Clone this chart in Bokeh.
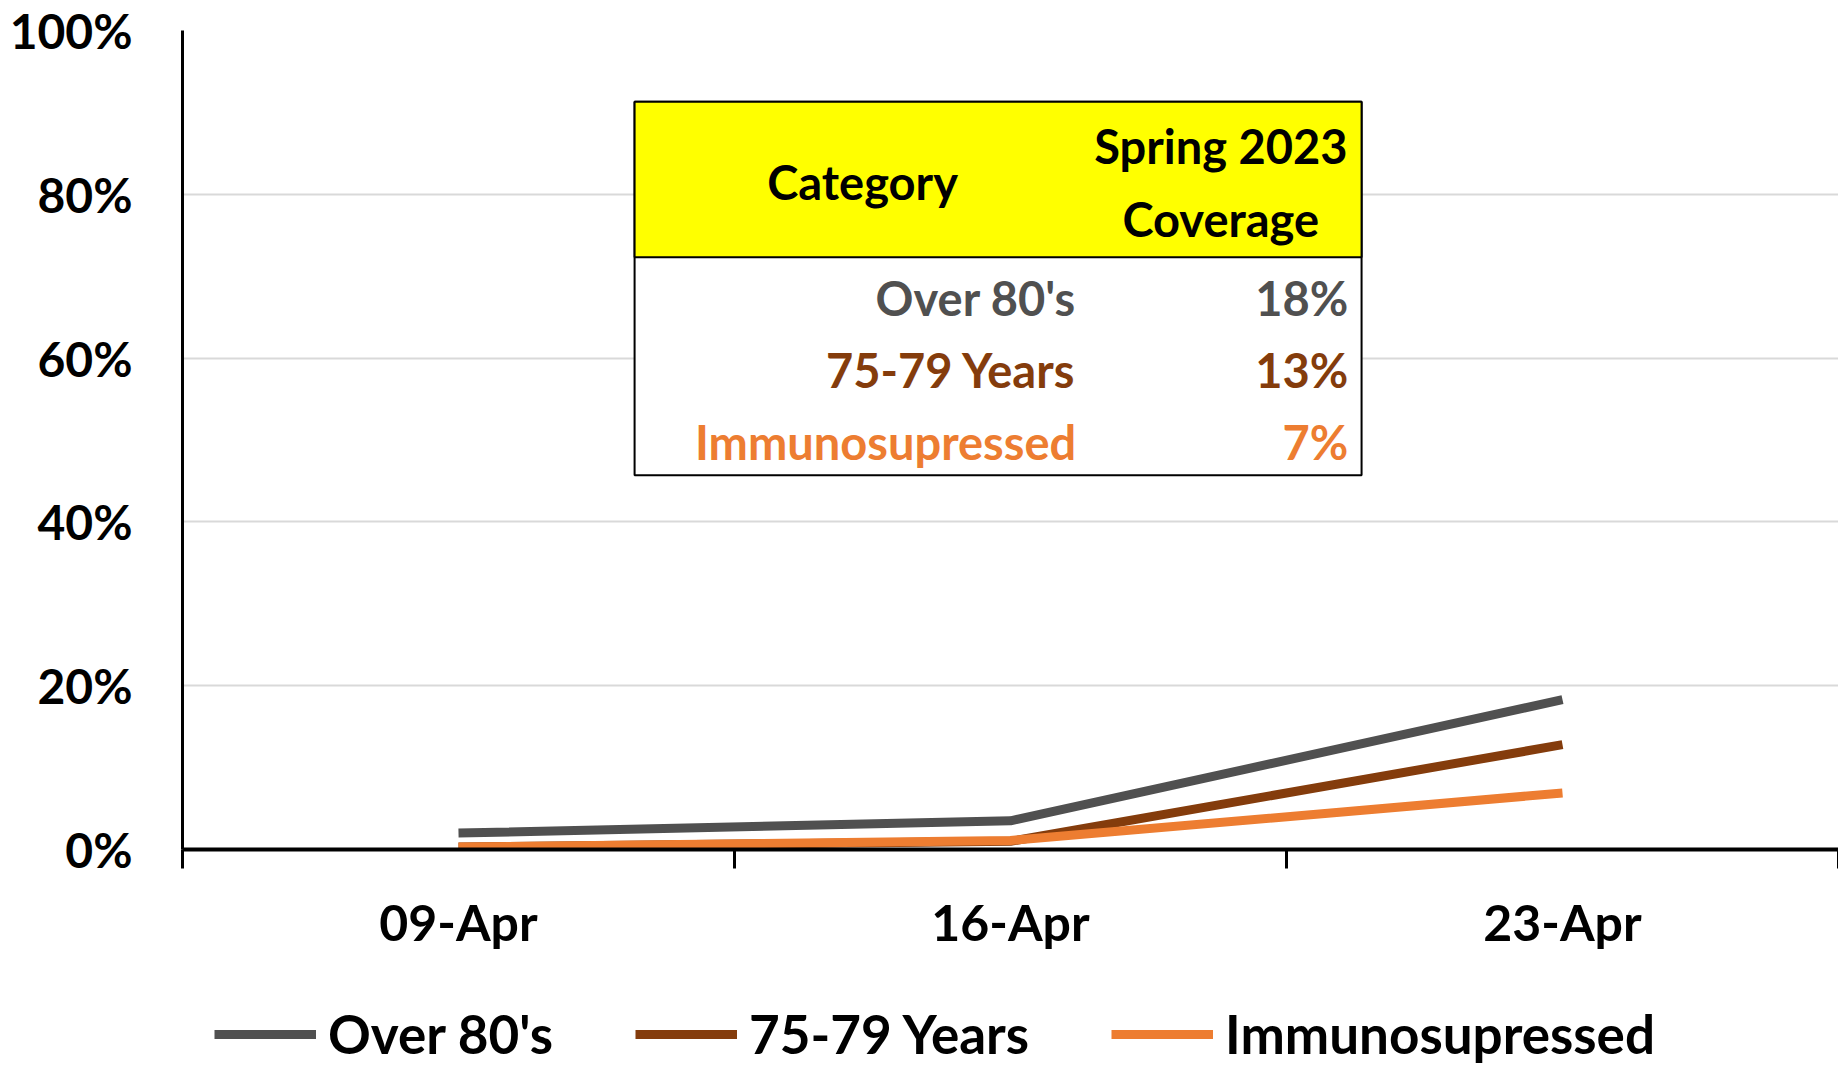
from bokeh.plotting import figure
from bokeh.layouts import column
from bokeh.models import Range1d, FixedTicker, NumeralTickFormatter, Legend, LegendItem, ColumnDataSource
from bokeh.core.properties import value
from bokeh.embed import file_html
from bokeh.resources import INLINE

# ---- data ----
dates = ["09-Apr", "16-Apr", "23-Apr"]
series_names = ["Over 80's", "75-79 Years", "Immunosupressed"]
over80 = [0.020, 0.035, 0.183]
years7579 = [0.003, 0.010, 0.128]
immuno = [0.003, 0.011, 0.069]
y_ticks = [0.0, 0.2, 0.4, 0.6, 0.8, 1.0]
table_header = ["Category", "Spring 2023", "Coverage"]

colors = ["#505050", "#843C0C", "#ED7D31"]
FONT = "Lato"
W = 1838

centers = [i + 0.5 for i in range(len(dates))]
bounds = list(range(len(dates) + 1))
all_series = [over80, years7579, immuno]

p = figure(width=W, height=980, output_backend="svg", toolbar_location=None,
           x_range=Range1d(0, len(dates)), y_range=Range1d(0, 1),
           min_border_left=182, min_border_top=30, min_border_bottom=131, min_border_right=0)
p.outline_line_color = None
p.background_fill_color = "white"
p.border_fill_color = "white"

# x axis
xa = p.xaxis[0]
xa.ticker = FixedTicker(ticks=centers, minor_ticks=bounds)
xa.major_label_overrides = {c: d for c, d in zip(centers, dates)}
xa.major_tick_out = 0
xa.major_tick_in = 0
xa.minor_tick_out = 19
xa.minor_tick_in = 0
xa.minor_tick_line_color = "black"
xa.minor_tick_line_width = 3
xa.axis_line_color = "black"
xa.axis_line_width = 4
xa.major_label_text_font = FONT
xa.major_label_text_font_style = "bold"
xa.major_label_text_font_size = "50px"
xa.major_label_text_color = "black"
xa.major_label_standoff = 23

# y axis
ya = p.yaxis[0]
ya.ticker = FixedTicker(ticks=y_ticks)
ya.formatter = NumeralTickFormatter(format="0%")
ya.major_tick_out = 0
ya.major_tick_in = 0
ya.minor_tick_out = 0
ya.minor_tick_in = 0
ya.axis_line_color = "black"
ya.axis_line_width = 3
ya.major_label_text_font = FONT
ya.major_label_text_font_style = "bold"
ya.major_label_text_font_size = "48px"
ya.major_label_text_color = "black"
ya.major_label_standoff = 50

p.xgrid.visible = False
p.ygrid.ticker = FixedTicker(ticks=y_ticks)
p.ygrid.grid_line_color = "#D9D9D9"
p.ygrid.grid_line_width = 2

# lines
for vals, col in zip(all_series, colors):
    p.line(x=centers, y=vals, line_color=col, line_width=9, line_join="round")

# table annotation (layout in data units of the fixed ranges)
tx0, tx1 = 0.819, 2.136
ty_top, ty_head, ty_bot = 0.913, 0.723, 0.457
p.quad(left=[tx0], right=[tx1], top=[ty_top], bottom=[ty_bot],
       fill_color="white", line_color="black", line_width=2)
p.quad(left=[tx0], right=[tx1], top=[ty_top], bottom=[ty_head],
       fill_color="#FFFF00", line_color="black", line_width=2)

p.text(x=[1.232, 1.881, 1.881], y=[0.815, 0.859, 0.770], text=table_header,
       text_font=value(FONT), text_font_style="bold", text_font_size="47px",
       text_align="center", text_baseline="middle", text_color="black")

last_vals = [s[-1] for s in all_series]
row_y = [0.673, 0.585, 0.497]
rows = ColumnDataSource(dict(
    lx=[1.619] * 3, vx=[2.112] * 3, y=row_y,
    name=series_names, val=[f"{round(v * 100):.0f}%" for v in last_vals], c=colors))
p.text(x="lx", y="y", text="name", source=rows, text_color="c",
       text_font=value(FONT), text_font_style="bold", text_font_size="47px",
       text_align="right", text_baseline="middle")
p.text(x="vx", y="y", text="val", source=rows, text_color="c",
       text_font=value(FONT), text_font_style="bold", text_font_size="47px",
       text_align="right", text_baseline="middle")

# legend strip (series re-drawn out of view so the legend has proper glyphs)
p2 = figure(width=W, height=85, output_backend="svg", toolbar_location=None,
            x_range=Range1d(0, len(dates)), y_range=Range1d(10, 11),
            x_axis_location=None, y_axis_location=None,
            min_border_left=182, min_border_top=0, min_border_bottom=0, min_border_right=0)
p2.outline_line_color = None
p2.xgrid.visible = False
p2.ygrid.visible = False
leg_r = [p2.line(x=centers, y=vals, line_color=c, line_width=9) for vals, c in zip(all_series, colors)]
legend = Legend(items=[LegendItem(label=n, renderers=[r]) for n, r in zip(series_names, leg_r)],
                orientation="horizontal", location=(32, 0),
                label_text_font=FONT, label_text_font_style="bold", label_text_font_size="53px",
                label_text_color="black", glyph_width=102, glyph_height=20, label_height=40,
                label_standoff=12, spacing=82, padding=0, margin=0,
                border_line_color=None, background_fill_alpha=0)
p2.add_layout(legend, "center")

layout = column(p, p2, spacing=0)
open("out.html", "w").write(file_html(layout, INLINE))
